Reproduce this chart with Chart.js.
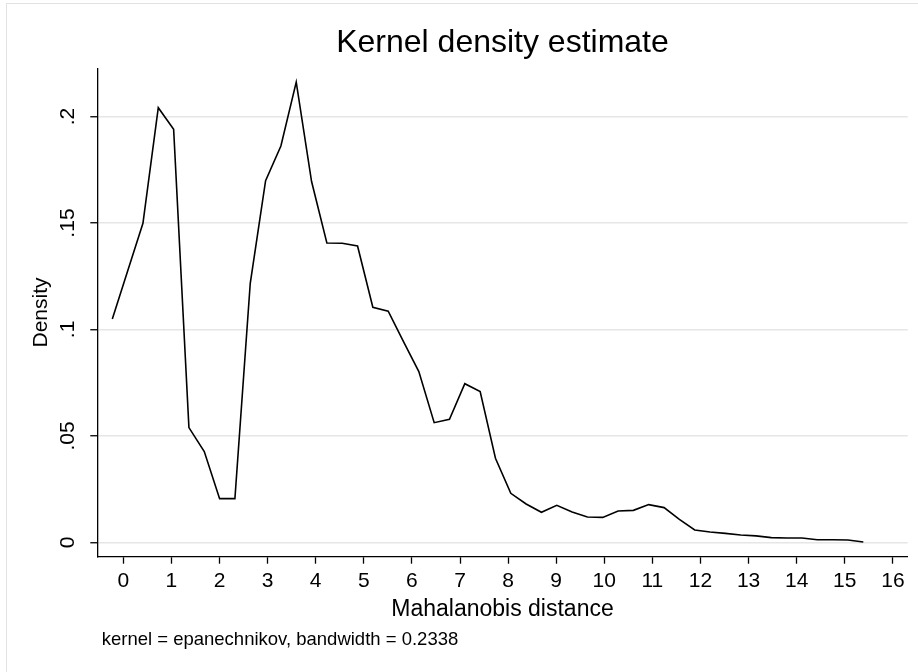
<!DOCTYPE html>
<html>
<head>
<meta charset="utf-8">
<script src="https://cdn.jsdelivr.net/npm/chart.js@4.4.1/dist/chart.umd.min.js"></script>
<style>
  html, body { margin: 0; padding: 0; background: #fff; }
  #wrap { position: relative; width: 918px; height: 672px; }
  #frame { position: absolute; left: 6px; top: 3px; right: 0; bottom: 0;
           border-left: 1px solid #e2e2e2; border-top: 1px solid #e2e2e2; pointer-events: none; }
  canvas { position: absolute; left: 0; top: 0; }
</style>
</head>
<body>
<div id="wrap">
  <canvas id="chart" width="918" height="672"></canvas>
  <div id="frame"></div>
</div>
<script>
// evaluation points of the density estimate (Mahalanobis distance)
const distance = [
  -0.229, 0.090, 0.408, 0.727, 1.046, 1.364, 1.683, 2.002, 2.320, 2.639,
  2.958, 3.276, 3.595, 3.914, 4.232, 4.551, 4.870, 5.188, 5.507, 5.825,
  6.144, 6.463, 6.781, 7.100, 7.419, 7.737, 8.056, 8.375, 8.693, 9.012,
  9.331, 9.649, 9.968, 10.287, 10.605, 10.924, 11.243, 11.561, 11.880, 12.198,
  12.517, 12.836, 13.154, 13.473, 13.792, 14.110, 14.429, 14.748, 15.066, 15.385
];
// estimated density at each point
const density = [
  0.1049, 0.1275, 0.1499, 0.2042, 0.1941, 0.0539, 0.0426, 0.0205, 0.0205, 0.1217,
  0.1699, 0.1862, 0.2162, 0.1695, 0.1406, 0.1405, 0.1392, 0.1104, 0.1086, 0.0943,
  0.0802, 0.0562, 0.0578, 0.0745, 0.0708, 0.0395, 0.0230, 0.0180, 0.0141, 0.0174,
  0.0142, 0.0119, 0.0117, 0.0147, 0.0150, 0.0177, 0.0163, 0.0108, 0.0058, 0.0048,
  0.0042, 0.0034, 0.0030, 0.0022, 0.0020, 0.0020, 0.0012, 0.0012, 0.0011, 0.0001
];
const xTickValues = [0, 1, 2, 3, 4, 5, 6, 7, 8, 9, 10, 11, 12, 13, 14, 15, 16];
const xTickLabels = ['0', '1', '2', '3', '4', '5', '6', '7', '8', '9', '10', '11', '12', '13', '14', '15', '16'];
const yTickValues = [0, 0.05, 0.1, 0.15, 0.2];
const yTickLabels = ['0', '.05', '.1', '.15', '.2'];
const note = 'kernel = epanechnikov, bandwidth = 0.2338';

const FONT = "'Liberation Sans', Arial, Helvetica, sans-serif";

// the footnote under the x axis title
const notePlugin = {
  id: 'note',
  afterDraw(chart) {
    const ctx = chart.ctx;
    ctx.save();
    ctx.font = `18.5px ${FONT}`;
    ctx.fillStyle = '#000';
    ctx.textAlign = 'left';
    ctx.textBaseline = 'alphabetic';
    ctx.fillText(note, 101.7, 645);
    ctx.restore();
  }
};

new Chart(document.getElementById('chart').getContext('2d'), {
  type: 'line',
  data: {
    datasets: [{
      data: distance.map((d, i) => ({ x: d, y: density[i] })),
      borderColor: '#000',
      borderWidth: 1.6,
      pointRadius: 0,
      tension: 0,
      fill: false
    }]
  },
  options: {
    responsive: false,
    animation: false,
    layout: { padding: { left: 0, top: 0, right: 10.3, bottom: 44.6 } },
    plugins: {
      legend: { display: false },
      tooltip: { enabled: false },
      title: {
        display: true,
        text: 'Kernel density estimate',
        fullSize: false,
        color: '#000',
        font: { family: FONT, size: 32, weight: 'normal', lineHeight: 1.2 },
        padding: { top: 24, bottom: 5.9 }
      }
    },
    scales: {
      x: {
        type: 'linear',
        position: 'bottom',
        min: -0.541,
        max: 16.308,
        afterBuildTicks: (axis) => { axis.ticks = xTickValues.map(v => ({ value: v })); },
        afterFit: (axis) => { axis.height = 70.7; },
        ticks: {
          autoSkip: false,
          maxRotation: 0,
          padding: 5,
          color: '#000',
          font: { family: FONT, size: 21 },
          callback: (v) => xTickLabels[xTickValues.indexOf(v)]
        },
        grid: {
          drawOnChartArea: false,
          tickLength: 7,
          tickColor: '#000',
          tickWidth: 1.3
        },
        border: { display: true, color: '#000', width: 1.3 },
        title: {
          display: true,
          text: 'Mahalanobis distance',
          color: '#000',
          font: { family: FONT, size: 23 },
          padding: { top: 0, bottom: 4 }
        }
      },
      y: {
        type: 'linear',
        min: -0.00677,
        max: 0.2227,
        afterBuildTicks: (axis) => { axis.ticks = yTickValues.map(v => ({ value: v })); },
        afterFit: (axis) => { axis.width = 97.3; },
        ticks: {
          minRotation: 90,
          maxRotation: 90,
          crossAlign: 'center',
          padding: 8,
          color: '#000',
          font: { family: FONT, size: 21 },
          callback: (v) => yTickLabels[yTickValues.indexOf(v)]
        },
        grid: {
          color: '#e6e6e6',
          lineWidth: 1.5,
          tickLength: 7,
          tickColor: '#000',
          tickWidth: 1.3
        },
        border: { display: true, color: '#000', width: 1.3 },
        title: {
          display: true,
          text: 'Density',
          color: '#000',
          font: { family: FONT, size: 21 },
          padding: { top: 29, bottom: 0 }
        }
      }
    }
  },
  plugins: [notePlugin]
});
</script>
</body>
</html>
